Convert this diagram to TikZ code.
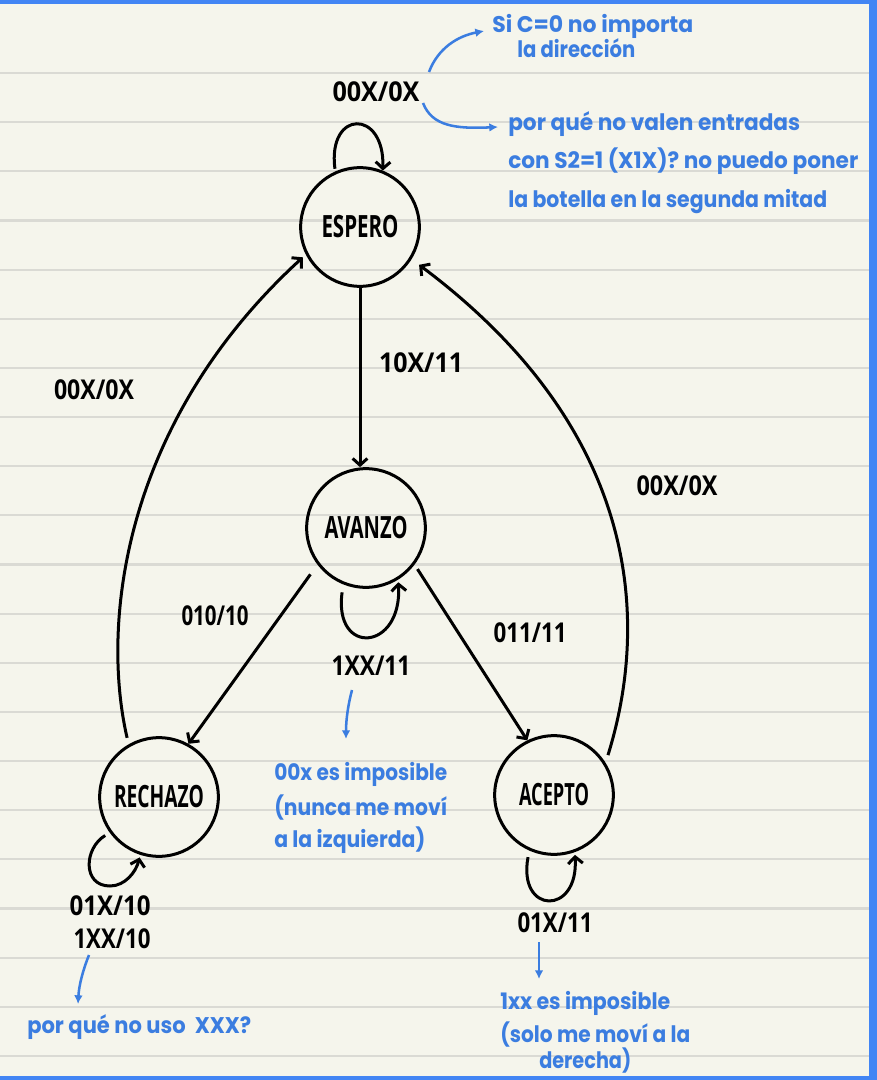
\documentclass[tikz,border=0pt]{standalone}
\usepackage{fontspec}
\usepackage{graphicx}
\setmainfont{Open Sans}
\newfontfamily\hand{Poppins}
\usetikzlibrary{arrows.meta}
\newlength\pxu \setlength\pxu{0.75pt}
\newcommand\fw[2]{\resizebox{#1\pxu}{\height}{#2}}
\definecolor{paper}{HTML}{F5F5EC}
\definecolor{ruleC}{HTML}{DADAD4}
\definecolor{frameC}{HTML}{4285F4}
\definecolor{inkB}{HTML}{3B7DE0}
\tikzset{
  state/.style={circle, draw, line width=2.25pt, minimum size=89pt, inner sep=0pt,
    font=\bfseries\fontsize{23}{23}\selectfont},
  lbl/.style={anchor=base, inner sep=0pt, font=\bfseries\fontsize{20.5}{20}\selectfont},
  note/.style={anchor=base west, inner sep=0pt, text=inkB, font=\hand\bfseries\fontsize{17}{17}\selectfont},
  tr/.style={line width=2.25pt, -{Straight Barb[length=5pt,width=11pt]}},
  nedge/.style={inkB, line width=1.9pt, -{Latex[length=6.5pt,width=6.5pt]}},
  ruled/.style={ruleC, line width=1.6pt}
}
\begin{document}
\begin{tikzpicture}[x=0.75pt,y=-0.75pt]
\useasboundingbox (0,0) rectangle (876,1080);
\fill[paper] (-10,-10) rectangle (886,1090);
\foreach \k in {0,...,20} \draw[ruled] (-5,{73+49.15*\k}) -- (869,{73+49.15*\k});
\fill[frameC] (-10,-10) rectangle (886,4);
\fill[frameC] (869,-10) rectangle (886,1090);
\fill[frameC] (-10,1076) rectangle (886,1090);

% states
\node[state] (ESPERO) at (360,227) {\fw{77}{ESPERO}};
\node[state] (AVANZO) at (366,528) {\fw{83}{AVANZO}};
\node[state] (RECHAZO) at (159,797) {\fw{90}{RECHAZO}};
\node[state] (ACEPTO) at (554,795) {\fw{70}{ACEPTO}};

% transitions
\draw[tr, shorten <=2pt] (ESPERO.114) .. controls +(-8,-62) and +(2,-62) .. (ESPERO.68);
\draw[tr] (ESPERO.south) -- (ESPERO.south |- AVANZO.north);
\draw[tr, shorten <=9pt] (AVANZO.217) -- (RECHAZO.61);
\draw[tr, shorten <=4pt] (AVANZO.-37) -- (ACEPTO.116);
\draw[tr, shorten <=6pt, shorten >=2pt] (AVANZO.-112) .. controls +(-10,72) and +(4,72) .. (AVANZO.-58);
\coordinate (rl) at (110,886);
\draw[tr, shorten <=4pt, shorten >=2pt] (RECHAZO.216) .. controls (84,848) and (82,886) .. (rl) .. controls (125,886) and (136,872) .. (RECHAZO.-108);
\draw[tr, shorten <=5pt, shorten >=2pt] (ACEPTO.-114) .. controls +(-12,64) and +(4,64) .. (ACEPTO.-70);
\draw[tr, shorten <=5pt, shorten >=3pt] (RECHAZO.120) .. controls (100,620) and (125,420) .. (ESPERO.207);
\draw[tr, shorten <=6pt, shorten >=7pt] (ACEPTO.32) .. controls (650,620) and (640,430) .. (ESPERO.-32);

% transition labels
\node[lbl] (lE) at (376,102) {\fw{87}{00X/0X}};
\node[lbl] (lEA) at (421,372) {\fw{84}{10X/11}};
\node[lbl] (lRE) at (94,399) {\fw{80}{00X/0X}};
\node[lbl] (lAE) at (677,495) {\fw{81}{00X/0X}};
\node[lbl] (lAR) at (215,625) {\fw{67}{010/10}};
\node[lbl] (lAC) at (530,642) {\fw{73}{011/11}};
\node[lbl] (lA) at (371,675) {\fw{79}{1XX/11}};
\node[lbl] (lR1) at (110,915) {\fw{81}{01X/10}};
\node[lbl] (lR2) at (112,948) {\fw{77}{1XX/10}};
\node[lbl] (lC) at (555,932) {\fw{75}{01X/11}};

% notes
\node[note] (n1a) at (492,33) {\fw{201}{Si C=0 no importa}};
\node[note] (n1b) at (517,58) {\fw{118}{la dirección}};
\node[note] (n2a) at (508,131) {\fw{292}{por qué no valen entradas}};
\node[note] (n2b) at (508,169) {\fw{350}{con S2=1 (X1X)? no puedo poner}};
\node[note] (n2c) at (508,208) {\fw{319}{la botella en la segunda mitad}};
\node[note] (n3a) at (274,780) {\fw{173}{00x es imposible}};
\node[note] (n3b) at (274,815) {\fw{173}{(nunca me moví}};
\node[note] (n3c) at (274,847) {\fw{151}{a la izquierda)}};
\node[note] (n4) at (27,1033) {\fw{224}{por qué no uso\ \ XXX?}};
\node[note] (n5a) at (500,1009) {\fw{170}{1xx es imposible}};
\node[note] (n5b) at (500,1042) {\fw{190}{(solo me moví a la}};
\node[note] (n5c) at (539,1068) {\fw{92}{derecha)}};

% note arrows
\coordinate (a1) at (429,72);  \coordinate (a2) at (484,31);
\draw[nedge] (a1) .. controls (438,48) and (458,36) .. (a2);
\coordinate (b1) at (423,103); \coordinate (b2) at (498,127);
\draw[nedge] (b1) .. controls (432,126) and (455,129) .. (b2);
\coordinate (c1) at (352,690); \coordinate (c2) at (346,739);
\draw[nedge] (c1) .. controls (348,705) and (346,720) .. (c2);
\coordinate (d1) at (89,955); \coordinate (d2) at (78,1004);
\draw[nedge] (d1) .. controls (83,970) and (79,985) .. (d2);
\coordinate (e1) at (539,942); \coordinate (e2) at (539,979);
\draw[nedge] (e1) -- (e2);
\end{tikzpicture}
\end{document}
